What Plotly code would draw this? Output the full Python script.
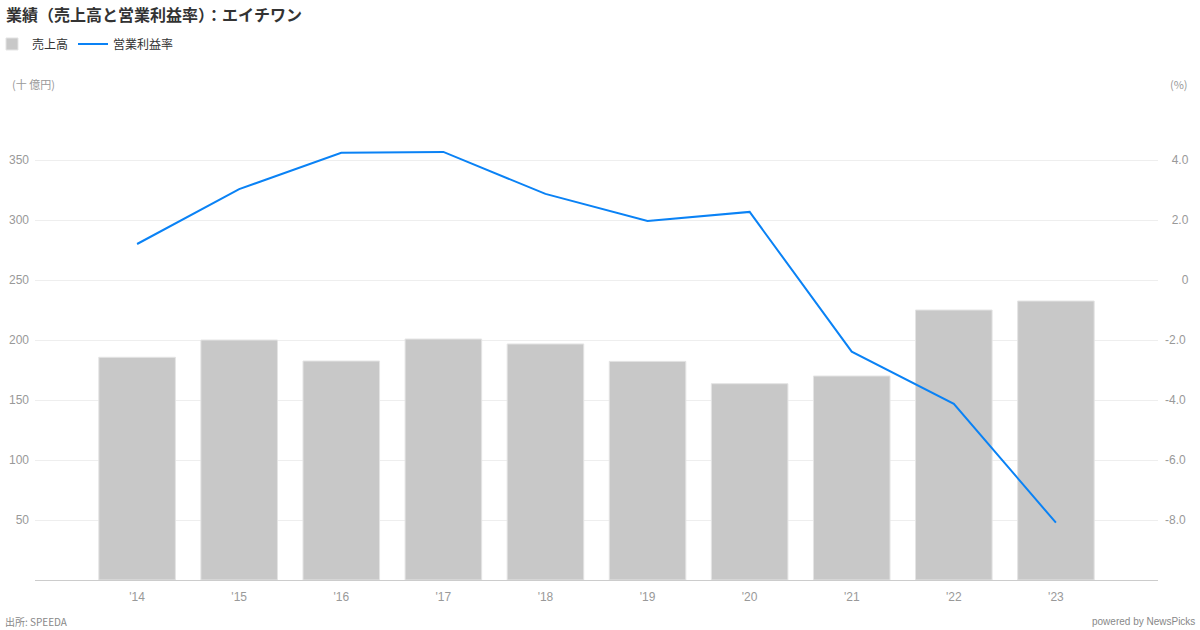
import plotly.graph_objects as go

years = ["'14", "'15", "'16", "'17", "'18", "'19", "'20", "'21", "'22", "'23"]
sales = [185.6, 200.0, 182.5, 200.8, 196.7, 182.2, 163.6, 170.0, 225.0, 232.5]
op_margin = [1.2, 3.03, 4.24, 4.27, 2.87, 1.97, 2.27, -2.39, -4.13, -8.09]

left_ticks = [50, 100, 150, 200, 250, 300, 350]
right_ticks = [4, 2, 0, -2, -4, -6, -8]
right_ticktext = ["\u20074.0", "\u20072.0", "\u2007\u2008\u20070", "-2.0", "-4.0", "-6.0", "-8.0"]

FONT = "Noto Sans CJK JP, Liberation Sans, Arial, sans-serif"
TICK = "Liberation Sans, Arial, sans-serif"

x_idx = list(range(len(years)))

fig = go.Figure()
fig.add_trace(go.Bar(
    x=x_idx, y=sales, name="売上高",
    marker=dict(color="#c8c8c8", line=dict(color="#e4e4e4", width=1)),
    width=0.75, yaxis="y",
))
fig.add_trace(go.Scatter(
    x=x_idx, y=op_margin, name="営業利益率", mode="lines",
    line=dict(color="#0a82f5", width=2), yaxis="y2",
))

fig.update_layout(
    width=1200, height=630,
    paper_bgcolor="white", plot_bgcolor="white",
    margin=dict(l=35, r=42, t=100, b=50, autoexpand=False),
    font=dict(family=FONT, color="#333"),
    title=dict(text="<b>業績（売上高と営業利益率）：エイチワン</b>",
               x=0.005, xanchor="left", y=0.984, yanchor="top",
               font=dict(size=16, color="#333", family=FONT)),
    showlegend=True,
    legend=dict(orientation="h", x=-0.0383, xanchor="left", y=1.1167, yanchor="middle",
                font=dict(size=12, color="#333", family=FONT),
                itemwidth=30, tracegroupgap=0, bgcolor="rgba(0,0,0,0)"),
    xaxis=dict(
        range=[-1, 10], tickmode="array", tickvals=x_idx, ticktext=years,
        showgrid=False, zeroline=False, showline=True, linecolor="#cccccc", linewidth=1,
        ticks="", tickfont=dict(size=12, color="#999", family=TICK), ticklabelstandoff=6,
    ),
    yaxis=dict(
        range=[0, 400], tickmode="array", tickvals=left_ticks,
        showgrid=True, gridcolor="#eeeeee", gridwidth=1, zeroline=False,
        showline=False, ticks="", tickfont=dict(size=12, color="#999", family=TICK),
        ticklabelstandoff=5,
    ),
    yaxis2=dict(
        range=[-10, 6], overlaying="y", side="right", tickmode="array",
        tickvals=right_ticks, ticktext=right_ticktext,
        showgrid=False, zeroline=False, showline=False, ticks="",
        tickfont=dict(size=12, color="#999", family=TICK), ticklabelstandoff=6,
    ),
    annotations=[
        dict(text="(十 億円)", xref="paper", yref="paper", x=-0.0223, y=1.0333,
             xanchor="left", yanchor="middle", showarrow=False,
             font=dict(size=11, color="#999", family=FONT)),
        dict(text="(%)", xref="paper", yref="paper", x=1.0285, y=1.0333,
             xanchor="right", yanchor="middle", showarrow=False,
             font=dict(size=11, color="#999", family=FONT)),
        dict(text="出所: SPEEDA", xref="paper", yref="paper", x=-0.0285, y=-0.0865,
             xanchor="left", yanchor="middle", showarrow=False,
             font=dict(size=10, color="#888", family=FONT)),
        dict(text="powered by NewsPicks", xref="paper", yref="paper", x=1.0347, y=-0.0865,
             xanchor="right", yanchor="middle", showarrow=False,
             font=dict(size=10, color="#888", family=TICK)),
    ],
)

fig.write_html(
    "out.html",
    config={"displayModeBar": False},
    post_script="document.body.style.margin='0';document.body.style.overflow='hidden';",
)
